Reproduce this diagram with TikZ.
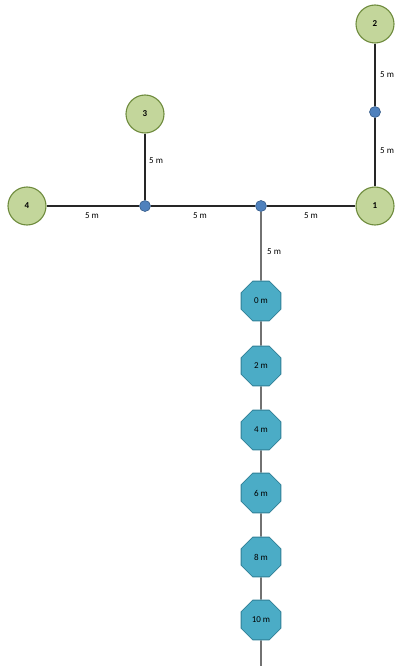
\documentclass[tikz,border=0pt]{standalone}
\usepackage{fontspec}
\setmainfont{Carlito}
\usetikzlibrary{shapes.geometric,backgrounds}
\definecolor{gfill}{HTML}{C3D69B}
\definecolor{gdraw}{HTML}{6E8B3D}
\definecolor{bfill}{HTML}{4F81BD}
\definecolor{bdraw}{HTML}{385D8A}
\definecolor{ofill}{HTML}{4BACC6}
\definecolor{odraw}{HTML}{2F7F96}
\tikzset{
  hub/.style={circle,draw=gdraw,fill=gfill,line width=1.1pt,minimum size=38pt,inner sep=0pt,font=\fontsize{9}{10}\selectfont\bfseries},
  junction/.style={circle,draw=bdraw,fill=bfill,line width=0.6pt,minimum size=11pt,inner sep=0pt},
  probe/.style={regular polygon,regular polygon sides=8,draw=odraw,fill=ofill,line width=0.8pt,minimum size=43pt,inner sep=0pt,font=\fontsize{9}{10}\selectfont},
  dist/.style={font=\fontsize{9}{10}\selectfont,inner sep=0pt},
  pipe/.style={line width=1.1pt,black!85}
}
\begin{document}
\begin{tikzpicture}[x=1pt,y=-1pt]
\useasboundingbox (0,0) rectangle (395,666);
\coordinate (bottom) at (261,666);
\node[hub] (n2) at (375,24) {2};
\node[hub] (n1) at (375,206) {1};
\node[hub] (n3) at (145,114) {3};
\node[hub] (n4) at (27,206) {4};
\node[junction] (ja) at (375,112) {};
\node[junction] (jb) at (145,206) {};
\node[junction] (jc) at (261,206) {};
\node[probe] (p0) at (261,301) {0 m};
\node[probe] (p2) at (261,366) {2 m};
\node[probe] (p4) at (261,430) {4 m};
\node[probe] (p6) at (261,493) {6 m};
\node[probe] (p8) at (261,557) {8 m};
\node[probe] (p10) at (261,620) {10 m};
\begin{scope}[on background layer]
\draw[pipe] (n2) -- (ja) -- (n1);
\draw[pipe] (n4) -- (jb) -- (jc) -- (n1);
\draw[pipe] (n3) -- (jb);
\draw[pipe] (jc) -- (p0) -- (p2) -- (p4) -- (p6) -- (p8) -- (p10) -- (bottom);
\end{scope}
\node[dist,anchor=west] (l1) at (380,75) {5 m};
\node[dist,anchor=west] (l2) at (380,151) {5 m};
\node[dist,anchor=west] (l3) at (149,161) {5 m};
\node[dist] (l4) at (92,216) {5 m};
\node[dist] (l5) at (200,216) {5 m};
\node[dist] (l6) at (311,216) {5 m};
\node[dist,anchor=west] (l7) at (267,252) {5 m};
\end{tikzpicture}
\end{document}
